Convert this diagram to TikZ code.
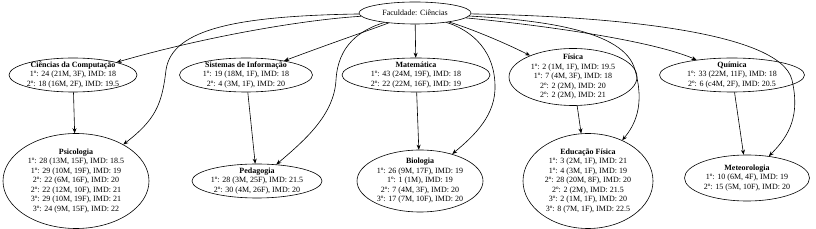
\documentclass[tikz,border=0pt]{standalone}
\usepackage{fontspec}
\setmainfont{Liberation Serif}
\usetikzlibrary{arrows.meta,shapes.geometric}

\begin{document}
\begin{tikzpicture}[
  x=1pt, y=-1pt,
  unit/.style={draw, ellipse, line width=0.6pt, inner sep=-4pt, align=center,
               font=\fontsize{8}{9.5}\selectfont},
  link/.style={-{Stealth[length=5pt,width=4pt]}, line width=0.6pt}
]
  \useasboundingbox (0,0) rectangle (816,229);

  % root
  \node[unit, minimum width=112pt, minimum height=22pt] (fac) at (415,13) {Faculdade: Ciências};

  % first row
  \node[unit, minimum width=128pt, minimum height=34pt] (comp) at (73,75)
    {\textbf{Ciências da Computação}\\1º: 24 (21M, 3F), IMD: 18\\2º: 18 (16M, 2F), IMD: 19.5};
  \node[unit, minimum width=133pt, minimum height=34pt] (sinf) at (246,75)
    {\textbf{Sistemas de Informação}\\1º: 19 (18M, 1F), IMD: 18\\2º: 4 (3M, 1F), IMD: 20};
  \node[unit, minimum width=148pt, minimum height=34pt] (mat) at (416,75)
    {\textbf{Matemática}\\1º: 43 (24M, 19F), IMD: 18\\2º: 22 (22M, 16F), IMD: 19};
  \node[unit, minimum width=128pt, minimum height=57pt] (fis) at (573,77)
    {\textbf{Física}\\1º: 2 (1M, 1F), IMD: 19.5\\1º: 7 (4M, 3F), IMD: 18\\2º: 2 (2M), IMD: 20\\2º: 2 (2M), IMD: 21};
  \node[unit, minimum width=145pt, minimum height=34pt] (qui) at (732,75)
    {\textbf{Química}\\1º: 33 (22M, 11F), IMD: 18\\2º: 6 (c4M, 2F), IMD: 20.5};

  % second row
  \node[unit, minimum width=146pt, minimum height=95pt] (psi) at (76,181)
    {\textbf{Psicologia}\\1º: 28 (13M, 15F), IMD: 18.5\\1º: 29 (10M, 19F), IMD: 19\\2º: 22 (6M, 16F), IMD: 20\\2º: 22 (12M, 10F), IMD: 21\\3º: 29 (10M, 19F), IMD: 21\\3º: 24 (9M, 15F), IMD: 22};
  \node[unit, minimum width=130pt, minimum height=34pt] (ped) at (257,181)
    {\textbf{Pedagogia}\\1º: 28 (3M, 25F), IMD: 21.5\\2º: 30 (4M, 26F), IMD: 20};
  \node[unit, minimum width=126pt, minimum height=62pt] (bio) at (420,181)
    {\textbf{Biologia}\\1º: 26 (9M, 17F), IMD: 19\\1º: 1 (1M), IMD: 19\\2º: 7 (4M, 3F), IMD: 20\\3º: 17 (7M, 10F), IMD: 20};
  \node[unit, minimum width=130pt, minimum height=95pt] (edf) at (588,181)
    {\textbf{Educação Física}\\1º: 3 (2M, 1F), IMD: 21\\1º: 4 (3M, 1F), IMD: 19\\2º: 28 (20M, 8F), IMD: 20\\2º: 2 (2M), IMD: 21.5\\3º: 2 (1M, 1F), IMD: 20\\3º: 8 (7M, 1F), IMD: 22.5};
  \node[unit, minimum width=125pt, minimum height=46pt] (met) at (747,178)
    {\textbf{Meteorologia}\\1º: 10 (6M, 4F), IMD: 19\\2º: 15 (5M, 10F), IMD: 20};

  % edges from the root
  \draw[link] (fac) .. controls (300,20) and (200,38) .. (comp);
  \draw[link] (fac) .. controls (240,16) and (172,28) .. (166,70)
                    .. controls (162,105) and (155,120) .. (psi);
  \draw[link] (fac) .. controls (370,30) and (340,40) .. (sinf);
  \draw[link] (fac) .. controls (360,30) and (338,45) .. (336,80)
                    .. controls (334,115) and (305,140) .. (ped);
  \draw[link] (fac) -- (mat);
  \draw[link] (fac) .. controls (465,28) and (494,45) .. (495,85)
                    .. controls (496,115) and (475,135) .. (bio);
  \draw[link] (fac) .. controls (460,25) and (495,38) .. (fis);
  \draw[link] (fac) .. controls (540,20) and (625,30) .. (635,70)
                    .. controls (645,105) and (635,125) .. (edf);
  \draw[link] (fac) .. controls (540,25) and (650,40) .. (qui);
  \draw[link] (fac) .. controls (600,16) and (780,30) .. (792,80)
                    .. controls (800,115) and (790,135) .. (met);

  % edges between the rows
  \draw[link] (comp) -- (psi);
  \draw[link] (sinf) -- (ped);
  \draw[link] (mat) -- (bio);
  \draw[link] (fis) -- (edf);
  \draw[link] (qui) -- (met);
\end{tikzpicture}
\end{document}
